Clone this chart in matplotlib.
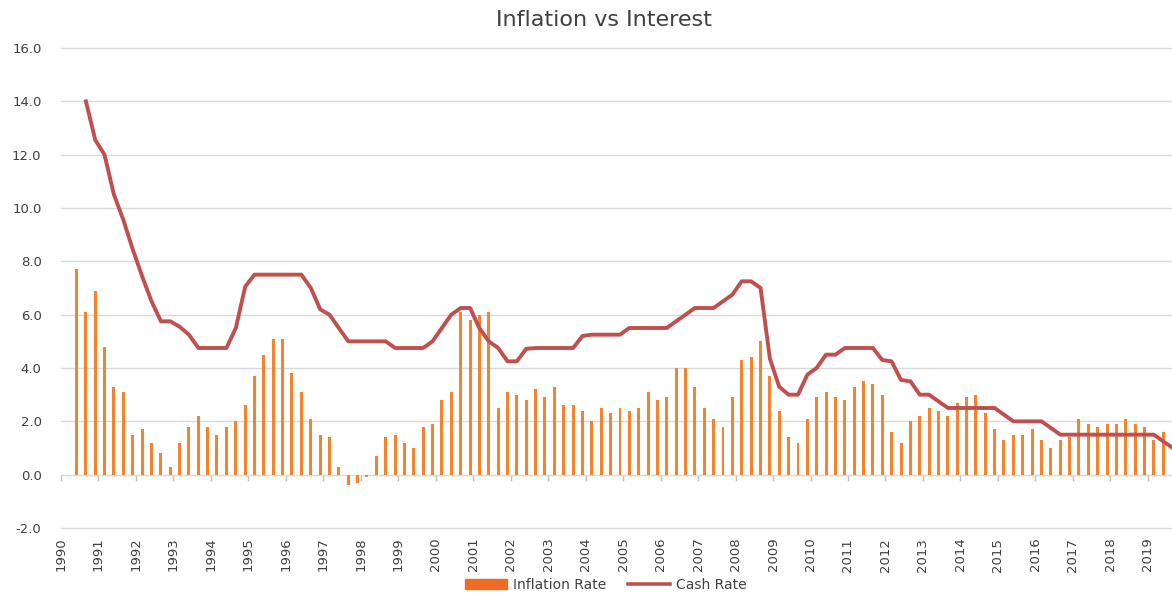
import matplotlib
matplotlib.use('Agg')
import matplotlib.pyplot as plt
import matplotlib.dates as mdates
import matplotlib.ticker as mticker
from matplotlib import font_manager
from matplotlib.patches import Patch
from matplotlib.lines import Line2D
import pandas as pd
import numpy as np

# quarterly series, first bar = Jun 1990
inflation_rate = [
    7.7, 6.1, 6.9, 4.8, 3.3, 3.1, 1.5, 1.7, 1.2, 0.8, 0.3, 1.2, 1.8, 2.2, 1.8, 1.5,
    1.8, 2.0, 2.6, 3.7, 4.5, 5.1, 5.1, 3.8, 3.1, 2.1, 1.5, 1.4, 0.3, -0.4, -0.3, -0.1,
    0.7, 1.4, 1.5, 1.2, 1.0, 1.8, 1.9, 2.8, 3.1, 6.1, 5.8, 6.0, 6.1, 2.5, 3.1, 3.0,
    2.8, 3.2, 2.9, 3.3, 2.6, 2.6, 2.4, 2.0, 2.5, 2.3, 2.5, 2.4, 2.5, 3.1, 2.8, 2.9,
    4.0, 4.0, 3.3, 2.5, 2.1, 1.8, 2.9, 4.3, 4.4, 5.0, 3.7, 2.4, 1.4, 1.2, 2.1, 2.9,
    3.1, 2.9, 2.8, 3.3, 3.5, 3.4, 3.0, 1.6, 1.2, 2.0, 2.2, 2.5, 2.4, 2.2, 2.7, 2.9,
    3.0, 2.3, 1.7, 1.3, 1.5, 1.5, 1.7, 1.3, 1.0, 1.3, 1.4, 2.1, 1.9, 1.8, 1.9, 1.9,
    2.1, 1.9, 1.8, 1.3, 1.6,
]

# cash rate starts one quarter later (Sep 1990)
cash_rate = [
    14.0, 12.55, 12.0, 10.5, 9.55, 8.45, 7.45, 6.5, 5.75, 5.75, 5.55, 5.25, 4.75, 4.75, 4.75, 4.75,
    5.5, 7.05, 7.5, 7.5, 7.5, 7.5, 7.5, 7.5, 7.0, 6.2, 6.0, 5.5, 5.0, 5.0, 5.0, 5.0,
    5.0, 4.75, 4.75, 4.75, 4.75, 5.0, 5.5, 6.0, 6.25, 6.25, 5.5, 5.0, 4.75, 4.25, 4.25, 4.72,
    4.75, 4.75, 4.75, 4.75, 4.75, 5.2, 5.25, 5.25, 5.25, 5.25, 5.5, 5.5, 5.5, 5.5, 5.5, 5.75,
    6.0, 6.25, 6.25, 6.25, 6.5, 6.75, 7.25, 7.25, 7.0, 4.35, 3.3, 3.0, 3.0, 3.75, 4.0, 4.5,
    4.5, 4.75, 4.75, 4.75, 4.75, 4.3, 4.25, 3.55, 3.5, 3.0, 3.0, 2.75, 2.5, 2.5, 2.5, 2.5,
    2.5, 2.5, 2.25, 2.0, 2.0, 2.0, 2.0, 1.75, 1.5, 1.5, 1.5, 1.5, 1.5, 1.5, 1.5, 1.5,
    1.5, 1.5, 1.5, 1.25, 1.0,
]

y_ticks = [-2, 0, 2, 4, 6, 8, 10, 12, 14, 16]

quarters = pd.date_range('1990-06-01', periods=len(inflation_rate) + 1, freq='QS-MAR')
bar_dates = quarters[:len(inflation_rate)]
line_dates = quarters[1:1 + len(cash_rate)]

installed = {f.name for f in font_manager.fontManager.ttflist}
narrow = next((f for f in ['Liberation Sans Narrow', 'DejaVu Sans Condensed'] if f in installed), 'DejaVu Sans')

text_col = '#404040'
grid_col = '#D9D9D9'

fig = plt.figure(figsize=(11.72, 5.94), dpi=100)
ax = fig.add_axes([61 / 1172, 1 - 528 / 594, 1 - 61 / 1172, (528 - 48) / 594])

ax.bar(bar_dates, inflation_rate, width=29, color='#F5832E', zorder=2)
ax.plot(line_dates, cash_rate, color='#C0504D', lw=2.8, zorder=3, solid_joinstyle='round')

ax.set_ylim(-2, 16)
ax.set_yticks(y_ticks)
ax.yaxis.set_major_formatter(mticker.FormatStrFormatter('%.1f'))
ax.grid(axis='y', color=grid_col, lw=1, zorder=0)
ax.set_axisbelow(True)
for gl in ax.get_ygridlines():
    gl.set_clip_on(False)

ax.set_xlim(pd.Timestamp('1990-01-01'), pd.Timestamp('2019-08-25'))
ax.xaxis.set_major_locator(mdates.YearLocator())
ax.xaxis.set_major_formatter(mdates.DateFormatter('%Y'))

for s in ax.spines.values():
    s.set_visible(False)

ax.tick_params(axis='y', length=0, pad=14, labelsize=9.5, labelcolor=text_col)
ax.tick_params(axis='x', length=0, pad=7, labelcolor=text_col)
for lbl in ax.get_xticklabels():
    lbl.set_rotation(90)
    lbl.set_family([narrow, 'DejaVu Sans'])
    lbl.set_fontsize(9.5)
    lbl.set_va('top')

# category axis crossing at zero with year tick marks
sec = ax.secondary_xaxis(2 / 18)
sec.xaxis.set_major_locator(mdates.YearLocator())
sec.xaxis.set_major_formatter(mticker.NullFormatter())
sec.spines['bottom'].set_color(grid_col)
sec.tick_params(axis='x', length=4, width=1, color='#BFBFBF', direction='out')

fig.text(604 / 1172, 1 - 20 / 594, 'Inflation vs Interest', ha='center', va='center',
         fontsize=16, color=text_col)

handles = [Patch(color='#EF6A22'), Line2D([], [], color='#C0504D', lw=2.6)]
fig.legend(handles, ['Inflation Rate', 'Cash Rate'], loc='center', ncol=2,
           bbox_to_anchor=(606 / 1172, 1 - 585 / 594), frameon=False, fontsize=10,
           labelcolor=text_col, handlelength=3.0, handletextpad=0.45, columnspacing=1.6,
           borderaxespad=0, borderpad=0)

fig.savefig('out.png', dpi=100)
